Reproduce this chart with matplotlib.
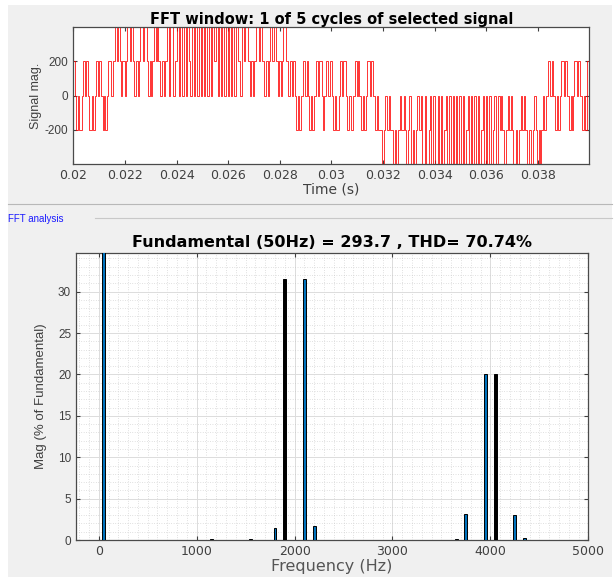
import matplotlib
matplotlib.use("Agg")
import matplotlib.pyplot as plt
from matplotlib.patches import Rectangle
from matplotlib.lines import Line2D
from matplotlib.ticker import MultipleLocator

plt.rcParams["font.family"] = ["Liberation Sans", "DejaVu Sans"]
plt.rcParams["axes.unicode_minus"] = False

# time signal: switching instants (ms) and the level held from that instant on
switch_ms = [
    20.00, 20.06, 20.10, 20.20, 20.24, 20.32, 20.38, 20.44, 20.50, 20.56,
    20.62, 20.72, 20.76, 20.84, 20.88, 20.96, 21.00, 21.08, 21.14, 21.20,
    21.24, 21.32, 21.36, 21.46, 21.52, 21.62, 21.70, 21.74, 21.80, 21.86,
    21.90, 22.00, 22.04, 22.10, 22.18, 22.22, 22.30, 22.36, 22.42, 22.50,
    22.54, 22.60, 22.70, 22.74, 22.84, 22.90, 22.96, 23.02, 23.06, 23.12,
    23.20, 23.24, 23.28, 23.36, 23.42, 23.52, 23.56, 23.62, 23.72, 23.76,
    23.86, 23.94, 24.00, 24.10, 24.14, 24.22, 24.28, 24.36, 24.40, 24.48,
    24.54, 24.60, 24.68, 24.72, 24.80, 24.86, 24.94, 24.98, 25.06, 25.12,
    25.20, 25.24, 25.32, 25.38, 25.44, 25.52, 25.60, 25.64, 25.72, 25.78,
    25.86, 25.90, 25.98, 26.04, 26.12, 26.16, 26.24, 26.30, 26.38, 26.46,
    26.52, 26.62, 26.66, 26.76, 26.84, 26.90, 26.98, 27.02, 27.10, 27.18,
    27.22, 27.32, 27.40, 27.46, 27.54, 27.58, 27.64, 27.72, 27.76, 27.84,
    27.92, 27.98, 28.06, 28.10, 28.14, 28.24, 28.32, 28.38, 28.46, 28.50,
    28.60, 28.64, 28.72, 28.76, 28.84, 28.90, 28.98, 29.04, 29.10, 29.14,
    29.22, 29.26, 29.34, 29.40, 29.48, 29.54, 29.62, 29.66, 29.72, 29.80,
    29.88, 29.94, 30.02, 30.08, 30.14, 30.20, 30.28, 30.34, 30.42, 30.46,
    30.58, 30.62, 30.70, 30.76, 30.84, 30.90, 30.98, 31.02, 31.08, 31.14,
    31.22, 31.28, 31.36, 31.40, 31.50, 31.54, 31.62, 31.68, 31.76, 31.82,
    31.96, 32.04, 32.10, 32.16, 32.24, 32.28, 32.40, 32.48, 32.52, 32.60,
    32.68, 32.72, 32.80, 32.84, 32.88, 32.96, 33.02, 33.08, 33.18, 33.22,
    33.28, 33.34, 33.40, 33.48, 33.52, 33.62, 33.68, 33.78, 33.84, 33.88,
    33.96, 34.02, 34.12, 34.16, 34.24, 34.30, 34.38, 34.44, 34.50, 34.58,
    34.62, 34.70, 34.76, 34.84, 34.88, 34.96, 35.02, 35.10, 35.14, 35.22,
    35.28, 35.34, 35.42, 35.46, 35.54, 35.60, 35.68, 35.72, 35.80, 35.86,
    35.92, 36.00, 36.04, 36.12, 36.18, 36.26, 36.32, 36.38, 36.46, 36.52,
    36.58, 36.62, 36.70, 36.78, 36.84, 36.90, 36.96, 37.00, 37.06, 37.14,
    37.20, 37.28, 37.34, 37.40, 37.48, 37.52, 37.58, 37.66, 37.72, 37.80,
    37.86, 37.92, 37.98, 38.06, 38.10, 38.14, 38.20, 38.26, 38.34, 38.40,
    38.48, 38.54, 38.60, 38.66, 38.74, 38.78, 38.86, 38.92, 39.00, 39.06,
    39.14, 39.20, 39.28, 39.32, 39.38, 39.42, 39.52, 39.56, 39.64, 39.70,
    39.78, 39.84, 39.90, 40.00,
]
level_v = [
    200, 0, -200, 0, -200, 0, 200, 0, 200, 0,
    -200, 0, -200, 0, 200, 0, 200, 0, -200, 0,
    -200, 0, 200, 0, 200, 400, 200, 400, 200, 0,
    200, 0, 200, 400, 200, 400, 200, 0, 200, 0,
    200, 400, 200, 400, 200, 0, 200, 0, 200, 400,
    200, 400, 200, 0, 200, 0, 200, 400, 0, 400,
    0, 200, 400, 0, 400, 0, 400, 0, 400, 200,
    0, 400, 0, 400, 0, 400, 0, 400, 0, 400,
    0, 400, 0, 400, 200, 400, 0, 400, 0, 400,
    0, 400, 0, 400, 0, 400, 0, 400, 200, 0,
    400, 200, 400, 200, 0, 200, 0, 200, 400, 200,
    400, 200, 0, 200, 0, 200, 400, 200, 400, 200,
    0, 200, 0, 200, 400, 200, 0, 200, 0, 200,
    0, -200, 0, -200, 0, 200, 0, 200, 0, -200,
    0, -200, 0, 200, 0, 200, 0, -200, 0, 200,
    0, 200, 0, -200, 0, -200, 0, 200, 0, 200,
    0, -200, 0, -200, 0, 200, 0, 200, 0, -200,
    0, -200, 0, 200, 0, 200, 0, -200, 0, -200,
    -400, -200, 0, -200, 0, -200, -400, -200, -400, -200,
    0, -200, 0, -200, -400, -200, 0, -400, -200, -400,
    -200, 0, -200, 0, -400, 0, -400, -200, 0, -400,
    0, -400, 0, -400, 0, -400, -200, 0, -400, 0,
    -400, 0, -400, 0, -400, 0, -400, 0, -400, -200,
    0, -400, 0, -400, 0, -400, 0, -400, -200, 0,
    -400, 0, -400, 0, -400, -200, 0, -400, 0, -200,
    0, -200, -400, -200, 0, -200, 0, -200, -400, -200,
    -400, -200, 0, -200, 0, -200, -400, -200, -400, -200,
    0, -200, -400, -200, -400, -200, 0, -200, 0, 200,
    0, 200, 0, -200, 0, -200, 0, 200, 0, 200,
    0, -200, 0, -200, 0, 200, 0, 200, 0, -200,
    0, -200, 200, 200,
]

# FFT spectrum (% of fundamental)
harm_hz = [50, 1150, 1550, 1800, 1900, 2100, 2200, 3650, 3750, 3950, 4050, 4250, 4350]
harm_mag = [100, 0.1, 0.1, 1.5, 31.5, 31.5, 1.7, 0.1, 3.2, 20.1, 20.1, 3.0, 0.3]
dark_bars = [1900, 4050]

time_ticks = [0.02, 0.022, 0.024, 0.026, 0.028, 0.03, 0.032, 0.034, 0.036, 0.038]
time_labels = ["0.02", "0.022", "0.024", "0.026", "0.028", "0.03", "0.032", "0.034", "0.036", "0.038"]

tick_col = "#404040"

fig = plt.figure(figsize=(6.16, 5.78), dpi=100, facecolor="white")
fig.patches.append(Rectangle((8 / 616, 1 - 577 / 578), 604 / 616, 572 / 578,
                             transform=fig.transFigure, facecolor="#f0f0f0",
                             edgecolor="none", zorder=-10))
fig.lines.append(Line2D([8 / 616, 612 / 616], [1 - 204 / 578] * 2, transform=fig.transFigure,
                        color="#b8b8b8", lw=0.8, zorder=-5))
fig.lines.append(Line2D([95 / 616, 612 / 616], [1 - 218 / 578] * 2, transform=fig.transFigure,
                        color="#c8c8c8", lw=0.8, zorder=-5))
fig.text(8 / 616, 1 - 219 / 578, "FFT analysis", color="#1a1aff", fontsize=7, va="center")

# --- time signal
ax1 = fig.add_axes([0.119, 0.7157, 0.8377, 0.2381])
t_s = [v / 1000 for v in switch_ms]
ax1.step(t_s, level_v, where="post", color="red", lw=0.7, alpha=0.8)
ax1.set_xlim(0.02, 0.04)
ax1.set_ylim(-402, 402)
ax1.set_xticks(time_ticks)
ax1.set_xticklabels(time_labels)
ax1.set_yticks([-200, 0, 200])
ax1.set_title("FFT window: 1 of 5 cycles of selected signal", fontsize=10.5,
              fontweight="bold", family="DejaVu Sans", pad=2)
ax1.set_xlabel("Time (s)", fontsize=10, color=tick_col, family="DejaVu Sans", labelpad=0)
ax1.set_ylabel("Signal mag.", fontsize=9, color=tick_col,
               family=["Liberation Sans Narrow", "Liberation Sans"], labelpad=2)

# --- spectrum
ax2 = fig.add_axes([0.1234, 0.0657, 0.8317, 0.4971])
face = ["black" if f in dark_bars else "#0072BD" for f in harm_hz]
ax2.bar(harm_hz, harm_mag, width=30, color=face, edgecolor="black", lw=0.7, zorder=3)
ax2.set_xlim(-232, 5000)
ax2.set_ylim(0, 34.7)
ax2.xaxis.set_major_locator(MultipleLocator(1000))
ax2.xaxis.set_minor_locator(MultipleLocator(100))
ax2.yaxis.set_major_locator(MultipleLocator(5))
ax2.yaxis.set_minor_locator(MultipleLocator(1))
ax2.grid(which="major", color="#dcdcdc", lw=0.7)
ax2.grid(which="minor", color="#c4c4c4", lw=0.5, linestyle=(0, (1, 2.5)))
ax2.set_axisbelow(True)
ax2.set_title("Fundamental (50Hz) = 293.7 , THD= 70.74%", fontsize=11.5,
              fontweight="bold", family="DejaVu Sans", pad=4)
ax2.set_xlabel("Frequency (Hz)", fontsize=11.5, color="#555555", family="DejaVu Sans", labelpad=1)
ax2.set_ylabel("Mag (% of Fundamental)", fontsize=9.5, color=tick_col,
               family=["Liberation Sans Narrow", "Liberation Sans"], labelpad=8)

for ax in (ax1, ax2):
    ax.set_facecolor("white")
    ax.tick_params(which="both", direction="in", top=True, right=True,
                   labelsize=8.5, colors=tick_col, length=3)
    ax.tick_params(which="minor", length=0)
    for lab in ax.get_xticklabels():
        lab.set_family("DejaVu Sans")
        lab.set_fontsize(9)
    for sp in ax.spines.values():
        sp.set_color("#4a4a4a")
        sp.set_linewidth(0.9)

fig.savefig("out.png", dpi=100)
